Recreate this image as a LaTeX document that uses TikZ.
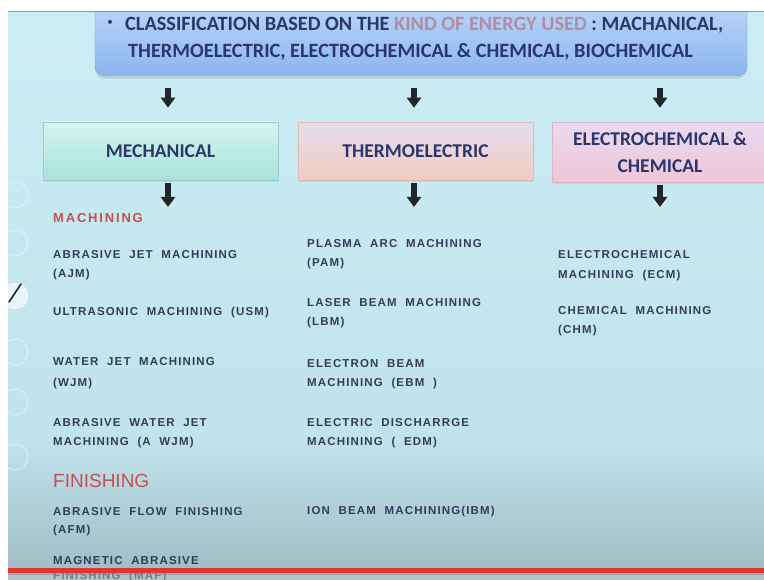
\documentclass[tikz,border=0pt]{standalone}
\usepackage{fontspec}
\setmainfont{Carlito}
\newfontfamily\itemfont{Liberation Sans}[LetterSpace=10,WordSpace=2]
\newfontfamily\machfont{Liberation Sans}[LetterSpace=14]
\newfontfamily\redfont{Liberation Sans}
\usetikzlibrary{arrows.meta,shadows,calc}

\definecolor{bgtop}{RGB}{204,237,244}
\definecolor{bgmid}{RGB}{192,228,236}
\definecolor{bgbot}{RGB}{160,188,196}
\definecolor{bandgray}{RGB}{140,164,170}
\definecolor{navy}{RGB}{42,54,108}
\definecolor{energy}{RGB}{178,142,166}
\definecolor{hdtop}{RGB}{190,218,250}
\definecolor{hdbot}{RGB}{140,180,238}
\definecolor{mechtop}{RGB}{212,245,238}
\definecolor{mechbot}{RGB}{168,226,220}
\definecolor{thtop}{RGB}{228,222,238}
\definecolor{thbot}{RGB}{242,204,194}
\definecolor{ectop}{RGB}{234,218,240}
\definecolor{ecbot}{RGB}{238,198,214}
\definecolor{itemc}{RGB}{52,60,92}
\definecolor{redc}{RGB}{202,78,80}
\definecolor{linered}{RGB}{228,52,46}
\definecolor{arrowc}{RGB}{34,38,40}
\definecolor{edgeline}{RGB}{60,105,105}

\newcommand\itemlines[1]{\begin{tabular}[t]{@{}l@{}}#1\end{tabular}}

\begin{document}
\begin{tikzpicture}[x=1pt,y=-1pt,
  hdrbox/.style={rounded corners=10pt, top color=hdtop, bottom color=hdbot,
    draw=hdbot!90!black, line width=0.4pt, inner sep=0pt,
    drop shadow={opacity=0.22, shadow xshift=0pt, shadow yshift=-3pt}},
  catbox/.style={inner sep=0pt, line width=0.6pt, align=center, text=navy,
    font=\bfseries\fontsize{19.5}{27}\selectfont,
    drop shadow={opacity=0.16, shadow xshift=1pt, shadow yshift=-2pt}},
  hdrtext/.style={anchor=base west, inner sep=0pt, text=navy,
    font=\bfseries\fontsize{20.3}{24}\selectfont},
  downarrow/.style={draw=arrowc, line width=5.5pt,
    -{Triangle[width=14pt,length=10pt]}},
  itemtext/.style={anchor=base west, inner sep=0pt, text=itemc,
    font=\itemfont\bfseries\fontsize{11.5}{18.5}\selectfont},
  groupred/.style={anchor=base west, inner sep=0pt, text=redc},
  toolring/.style={draw=white, line width=1pt, opacity=0.45}
]
\useasboundingbox (0,0) rectangle (764,580);
\fill[white] (0,0) rectangle (764,580);

% slide background, greying towards the bottom
\shade[top color=bgtop, bottom color=bgmid] (8,11) rectangle (764,440);
\shade[top color=bgmid, bottom color=bgbot] (8,440) rectangle (764,574);

% heading box
\node[hdrbox, minimum width=652pt, minimum height=80pt] (hdr) at (421,36) {};

% frame strips and the thin edge along the top
\fill[white] (0,0) rectangle (764,11);
\fill[white] (0,0) rectangle (8,580);
\draw[edgeline, opacity=0.55, line width=1.2pt] (8,11.6) -- (764,11.6);

\node[text=navy, inner sep=0pt, font=\fontsize{11}{12}\selectfont] (bul) at (110,23) {\textbullet};
\node[hdrtext] (hl1) at (125,31) {CLASSIFICATION BASED ON THE \textcolor{energy}{KIND OF ENERGY USED} : MACHANICAL,};
\node[hdrtext] (hl2) at (128,58) {THERMOELECTRIC, ELECTROCHEMICAL \& CHEMICAL, BIOCHEMICAL};

% category boxes
\node[catbox, draw=mechbot!92!black, top color=mechtop, bottom color=mechbot,
  minimum width=235pt, minimum height=58pt] (mech) at (160.5,151) {MECHANICAL};
\node[catbox, draw=thbot!92!black, top color=thtop, bottom color=thbot,
  minimum width=235pt, minimum height=58pt] (therm) at (415.5,151) {THERMOELECTRIC};
\node[catbox, draw=ecbot!92!black, top color=ectop, bottom color=ecbot,
  minimum width=216pt, minimum height=60pt] (echem) at (660,152) {ELECTROCHEMICAL \&\\CHEMICAL};

% arrow columns
\coordinate (c1) at (168,0);
\coordinate (c2) at (414,0);
\coordinate (c3) at (660,0);
\coordinate (e1) at (168,207);
\coordinate (e2) at (414,207);
\coordinate (e3) at (660,207);

\draw[downarrow, shorten <=12pt, shorten >=14pt] (hdr.south -| c1) -- (mech.north -| c1);
\draw[downarrow, shorten <=12pt, shorten >=14pt] (hdr.south -| c2) -- (therm.north -| c2);
\draw[downarrow, shorten <=12pt, shorten >=14pt] (hdr.south -| c3) -- (echem.north -| c3);
\draw[downarrow, shorten <=3pt] (mech.south -| c1) -- (e1);
\draw[downarrow, shorten <=3pt] (therm.south -| c2) -- (e2);
\draw[downarrow, shorten <=3pt] (echem.south -| c3) -- (e3);

% mechanical processes
\node[groupred, font=\machfont\bfseries\fontsize{13}{15}\selectfont] (mach) at (53,223) {MACHINING};
\node[itemtext] (ajm) at (53,259) {\itemlines{ABRASIVE JET MACHINING\\(AJM)}};
\node[itemtext] (usm) at (53,316) {ULTRASONIC MACHINING (USM)};
\node[itemtext, font=\itemfont\bfseries\fontsize{11.5}{21}\selectfont] (wjm) at (53,366) {\itemlines{WATER JET MACHINING\\(WJM)}};
\node[itemtext] (awjm) at (53,427) {\itemlines{ABRASIVE WATER JET\\MACHINING (A WJM)}};
\node[groupred, font=\redfont\fontsize{19}{22}\selectfont] (fin) at (53,487) {FINISHING};
\node[itemtext] (afm) at (53,515) {\itemlines{ABRASIVE FLOW FINISHING\\(AFM)}};
\node[itemtext, font=\itemfont\bfseries\fontsize{11.5}{15}\selectfont] (maf) at (53,564) {\itemlines{MAGNETIC ABRASIVE\\FINISHING (MAF)}};

% thermoelectric processes
\node[itemtext] (pam) at (307,248) {\itemlines{PLASMA ARC MACHINING\\(PAM)}};
\node[itemtext] (lbm) at (307,307) {\itemlines{LASER BEAM MACHINING\\(LBM)}};
\node[itemtext] (ebm) at (307,368) {\itemlines{ELECTRON BEAM\\MACHINING (EBM )}};
\node[itemtext] (edm) at (307,427) {\itemlines{ELECTRIC DISCHARRGE\\MACHINING ( EDM)}};
\node[itemtext] (ibm) at (307,514) {ION BEAM MACHINING(IBM)};

% electrochemical and chemical processes
\node[itemtext, font=\itemfont\bfseries\fontsize{11.5}{19.5}\selectfont] (ecm) at (558,259) {\itemlines{ELECTROCHEMICAL\\MACHINING (ECM)}};
\node[itemtext] (chm) at (558,315) {\itemlines{CHEMICAL MACHINING\\(CHM)}};

% side tool rings
\foreach \yy in {195,243,352,402,457}
  \draw[toolring] (15,\yy) circle (13);
\fill[white, opacity=0.6] (15,296) circle (13);
\draw[toolring] (15,296) circle (13);
\draw[arrowc, line width=1.6pt, line cap=round] (9,302) -- (21,284);
\fill[white] (0,180) rectangle (8,480);

% progress bar and the dimmed strip beneath it
\fill[bandgray, opacity=0.65] (8,573) rectangle (764,580);
\fill[linered] (8,568) rectangle (764,573);
\end{tikzpicture}
\end{document}
